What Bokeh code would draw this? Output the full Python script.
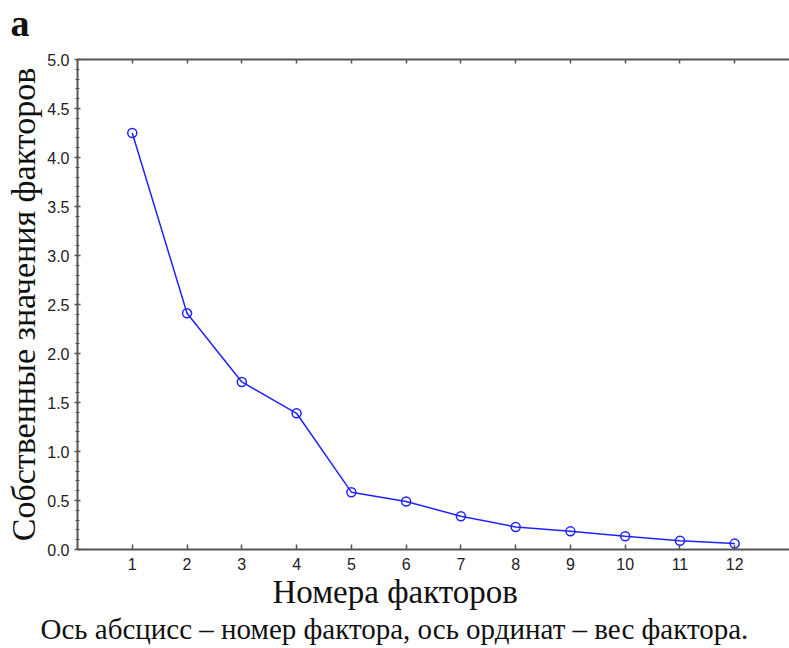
from bokeh.plotting import figure
from bokeh.models import (LinearAxis, FixedTicker, SingleIntervalTicker, Title,
                          NumeralTickFormatter, Range1d)
from bokeh.embed import file_html
from bokeh.resources import INLINE

factors = [1, 2, 3, 4, 5, 6, 7, 8, 9, 10, 11, 12]
eigenvalues = [4.25, 2.41, 1.71, 1.39, 0.585, 0.49, 0.34, 0.23, 0.185, 0.135, 0.09, 0.06]
x_ticks = [1, 2, 3, 4, 5, 6, 7, 8, 9, 10, 11, 12]
y_label = "Собственные значения факторов"
x_label = "Номера факторов"
caption = "Ось абсцисс – номер фактора, ось ординат – вес фактора."
panel_letter = "а"

W, H = 789, 648
FL, FB = 77, 549  # frame left / frame bottom in page pixels
p = figure(width=W, height=H, output_backend="svg", toolbar_location=None,
           x_range=Range1d(0, 13), y_range=Range1d(0, 5),
           min_border_left=FL, min_border_right=0, min_border_top=59,
           min_border_bottom=H - FB)
p.outline_line_color = None
p.grid.visible = False
p.background_fill_color = "white"
p.border_fill_color = "white"

p.line(factors, eigenvalues, line_color="#2222ff", line_width=1.5)
p.scatter(factors, eigenvalues, marker="circle", size=9, fill_color=None,
          line_color="#2222ff", line_width=1.5)

axis_color = "#555555"
tick_font = "Liberation Sans"

# bottom axis
xa = p.xaxis[0]
xa.ticker = FixedTicker(ticks=x_ticks)
xa.axis_line_color = axis_color
xa.axis_line_width = 2
xa.major_tick_in = 5
xa.major_tick_out = 0
xa.major_tick_line_color = axis_color
xa.major_tick_line_width = 1.5
xa.minor_tick_line_color = None
xa.major_label_text_font = tick_font
xa.major_label_text_font_size = "16px"
xa.major_label_text_color = "#222222"
xa.major_label_standoff = 8

# left axis
ya = p.yaxis[0]
ya.ticker = SingleIntervalTicker(interval=0.5, num_minor_ticks=5)
ya.formatter = NumeralTickFormatter(format="0.0")
ya.axis_line_color = axis_color
ya.axis_line_width = 2
ya.major_tick_in = 3
ya.major_tick_out = 3
ya.minor_tick_in = 2
ya.minor_tick_out = 2
ya.major_tick_line_color = axis_color
ya.minor_tick_line_color = axis_color
ya.major_tick_line_width = 1.5
ya.major_label_text_font = tick_font
ya.major_label_text_font_size = "16px"
ya.major_label_text_color = "#222222"
ya.major_label_standoff = 5
ya.axis_label = y_label
ya.axis_label_text_font = "Liberation Serif"
ya.axis_label_text_font_style = "normal"
ya.axis_label_text_font_size = "34px"
ya.axis_label_text_color = "#111111"
ya.axis_label_standoff = 2

# top axis (ticks only, empty labels)
ta = LinearAxis(ticker=FixedTicker(ticks=x_ticks), axis_line_color=axis_color,
                axis_line_width=2, major_tick_in=4, major_tick_out=0,
                major_tick_line_color=axis_color, major_tick_line_width=1.5,
                minor_tick_line_color=None, major_label_text_font_size="16px",
                major_label_overrides={t: "" for t in x_ticks},
                major_label_standoff=0)
p.add_layout(ta, "above")

# invisible spacer above the top axis, leaving room under the panel letter
spacer = LinearAxis(ticker=FixedTicker(ticks=x_ticks), axis_line_color=None,
                    major_tick_in=0, major_tick_out=17,
                    major_tick_line_color=None, minor_tick_line_color=None,
                    major_label_text_font_size="16px",
                    major_label_overrides={t: "" for t in x_ticks},
                    major_label_standoff=0)
p.add_layout(spacer, "above")

# panel letter as the plot title
p.title.text = panel_letter
p.title.align = "left"
p.title.offset = 10 - FL
p.title.standoff = -2
p.title.text_font = "Liberation Serif"
p.title.text_font_style = "bold"
p.title.text_font_size = "38px"
p.title.text_color = "#111111"

# x label and caption as titles below the axis
p.add_layout(Title(text=x_label, align="left", offset=272 - FL,
                   text_font="Liberation Serif", text_font_style="normal",
                   text_font_size="33px", text_color="#111111", standoff=-2), "below")
p.add_layout(Title(text=caption, align="left", offset=40 - FL,
                   text_font="Liberation Serif", text_font_style="normal",
                   text_font_size="29px", text_color="#111111", standoff=4), "below")

open("out.html", "w").write(file_html(p, INLINE))
